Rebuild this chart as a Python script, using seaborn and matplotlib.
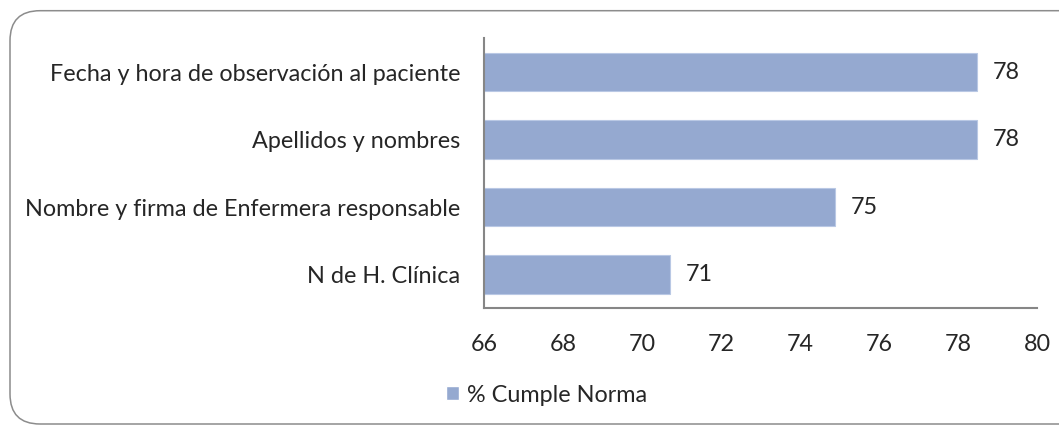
import matplotlib
matplotlib.use("Agg")
import matplotlib.pyplot as plt
import seaborn as sns
import pandas as pd
from matplotlib.patches import FancyBboxPatch, Patch

# data
items = [
    "Fecha y hora de observación al paciente",
    "Apellidos y nombres",
    "Nombre y firma de Enfermera responsable",
    "N de H. Clínica",
]
cumple = [78.47, 78.47, 74.89, 70.71]
serie = "% Cumple Norma"

df = pd.DataFrame({"item": items, "valor": cumple})

sns.set_style("white")
plt.rcParams["font.family"] = ["Lato", "DejaVu Sans"]
fs = 16.8

W, H = 1059, 425
fig = plt.figure(figsize=(W / 100, H / 100), dpi=100)
ax = fig.add_axes([484 / W, 1 - 308.3 / H, (1037 - 484) / W, 270 / H])

color = "#95a9d0"
sns.barplot(data=df, x="valor", y="item", color=color, width=0.57,
            saturation=1, ax=ax, edgecolor="#b9c8e4", linewidth=0.8)

ax.set_xlim(66, 80)
ax.set_xticks(range(66, 81, 2))
ax.set_xlabel("")
ax.set_ylabel("")
ax.tick_params(axis="x", labelsize=fs, length=0, pad=18.5)
ax.tick_params(axis="y", labelsize=fs, length=0, pad=17)
for s in ["top", "right"]:
    ax.spines[s].set_visible(False)
for s in ["left", "bottom"]:
    ax.spines[s].set_color("#868686")
    ax.spines[s].set_linewidth(1.5)

for cont in ax.containers:
    ax.bar_label(cont, fmt="%.0f", padding=11.5, fontsize=fs)

# legend
fig.legend(handles=[Patch(facecolor=color, label=serie)], loc="center",
           bbox_to_anchor=(546.5 / W, 1 - 395 / H), frameon=False,
           fontsize=fs, handlelength=0.57, handleheight=0.57, handletextpad=0.32)

# rounded frame (in inches so the corners stay round)
frame = FancyBboxPatch((0.10, 0.01), 11.0, 4.143 - 0.01,
                       boxstyle="round,pad=0,rounding_size=0.3",
                       transform=fig.dpi_scale_trans, fill=False,
                       edgecolor="#8c8c8c", linewidth=1.1, clip_on=False)
fig.patches.append(frame)

fig.savefig("out.png", dpi=100)
